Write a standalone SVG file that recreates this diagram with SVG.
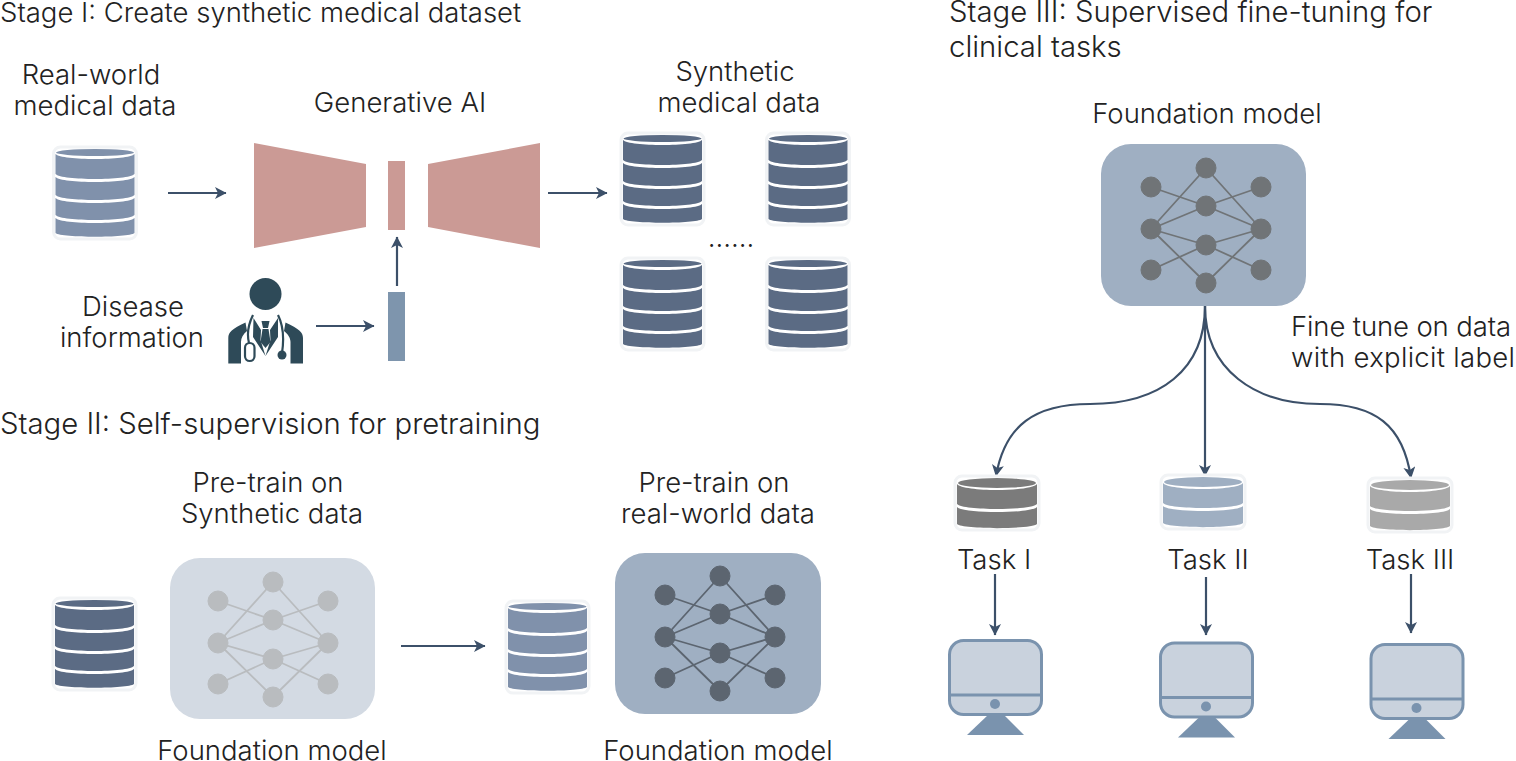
<svg xmlns="http://www.w3.org/2000/svg" width="1516" height="761" viewBox="0 0 1516 761">
<style>
text{font-family:"Inter","Liberation Sans",sans-serif;font-size:27.500px;font-weight:300;fill:#222}
.m{text-anchor:middle}
.big{font-size:29.300px}
.a{fill:none;stroke:#3c5069;stroke-width:2.200;marker-end:url(#ah)}
.pink{fill:#cb9a95}
.halo{fill:#fff;stroke:#f1f3f5;stroke-width:3}
.wire{fill:none;stroke-width:1.800}
.scr{fill:#c9d2dd;stroke:#7a93ae;stroke-width:3}
.ln{fill:none;stroke:#7a93ae;stroke-width:3}
.bl{fill:#7a93ae}
</style>
<defs>
<marker id="ah" markerUnits="userSpaceOnUse" markerWidth="14" markerHeight="14" refX="11" refY="6" orient="auto"><path d="M0 0L11.500 6L0 12L3 6Z" fill="#3c5069"/></marker>
<g id="db4">
<rect class="halo" x="-2" y="-2" width="83" height="92" rx="7"/>
<ellipse cx="39.5" cy="3.5" rx="39" ry="3.5"/>
<path d="M0 5C6 11.700 73 11.700 79 5V25C73 31.700 6 31.700 0 25Z"/>
<path d="M0 28C6 34.700 73 34.700 79 28V46C73 52.700 6 52.700 0 46Z"/>
<path d="M0 49C6 55.700 73 55.700 79 49V66C73 72.700 6 72.700 0 66Z"/>
<path d="M0 69C6 75.700 73 75.700 79 69V84C73 89 6 89 0 84Z"/>
</g>
<g id="db2">
<rect class="halo" x="-2" y="-2" width="84" height="54" rx="7"/>
<ellipse cx="40" cy="5" rx="39" ry="5"/>
<path d="M0 6C6 14 74 14 80 6V26C74 32.700 6 32.700 0 26Z"/>
<path d="M0 29C6 35.700 74 35.700 80 29V46C74 51.500 6 51.500 0 46Z"/>
</g>
<g id="net">
<path class="wire" d="M0 0L55 19M0 42L55 -19M0 42L55 19M0 42L55 58M0 42L55 96M0 83L55 58M110 0L55 19M110 42L55 -19M110 42L55 19M110 42L55 58M110 42L55 96M110 83L55 58"/>
<circle cx="0" cy="0" r="10"/><circle cx="0" cy="42" r="10"/><circle cx="0" cy="83" r="10"/>
<circle cx="55" cy="-19" r="10"/><circle cx="55" cy="19" r="10"/><circle cx="55" cy="58" r="10"/><circle cx="55" cy="96" r="10"/>
<circle cx="110" cy="0" r="10"/><circle cx="110" cy="42" r="10"/><circle cx="110" cy="83" r="10"/>
</g>
<g id="mon">
<path class="bl" d="M40 76H56L76 96H19Z"/>
<rect class="scr" x="1.500" y="1.500" width="92" height="74" rx="14"/>
<path class="ln" d="M2 56H93"/>
<circle class="bl" cx="47" cy="65" r="5"/>
</g>
</defs>

<g id="connectors">
<path class="a" d="M168 193H226"/>
<path class="a" d="M548 193H607"/>
<path class="a" d="M316 326H374"/>
<path class="a" d="M397 286V237"/>
<path class="a" d="M401 646H485"/>
<path class="a" d="M1205 306C1205 370 1160 404 1090 404C1035 404 1005 425 996 476"/>
<path class="a" d="M1205 306V476"/>
<path class="a" d="M1205 306C1205 370 1255 404 1320 404C1375 404 1403 425 1411 478"/>
<path class="a" d="M995 574V635"/>
<path class="a" d="M1206 577V635"/>
<path class="a" d="M1411 574V633"/>
</g>

<g id="stage1-title"><text x="0" y="22">Stage I: Create synthetic medical dataset</text></g>
<g id="real-data"><text class="m" x="91" y="84">Real-world</text><text class="m" x="95" y="115">medical data</text><use href="#db4" x="55.500" y="149" fill="#8091ab"/></g>
<g id="generative-ai"><text class="m" x="400" y="112">Generative AI</text>
<path class="pink" d="M254 143L366 164V227L254 248Z"/><rect class="pink" x="388" y="161" width="17" height="69"/><path class="pink" d="M428 164L540 143V248L428 227Z"/></g>
<g id="synthetic-data"><text class="m" x="735" y="81">Synthetic</text><text class="m" x="739" y="112">medical data</text>
<use href="#db4" x="623" y="135" fill="#5b6b84"/><use href="#db4" x="768.500" y="135" fill="#5b6b84"/><use href="#db4" x="623" y="260" fill="#5b6b84"/><use href="#db4" x="768.500" y="260" fill="#5b6b84"/>
<text class="m" x="731" y="247">......</text></g>
<g id="disease-info"><text class="m" x="133" y="316">Disease</text><text class="m" x="132" y="347">information</text></g>
<g id="doctor" fill="#2e4a58">
<circle cx="265.500" cy="294" r="16"/>
<path d="M228.300 363.500V338C228.300 332 232 329 245.500 322.500L247 331C243 334 241 338 241 342V363.500Z"/>
<path d="M303 363.500V338C303 332 299 329 285.500 322.500L284 331C288 334 290.500 338 290.500 342V363.500Z"/>
<path d="M253.500 318L261 330L260.500 340L265.500 356L253 337Z"/>
<path d="M278 318L270 330L270.500 340L265.500 356L278 337Z"/>
<path d="M261.500 321H269.500L268 328H263Z"/>
<path d="M262.500 329H268.500L270.500 342L265.500 348L260.500 342Z"/>
<path d="M253 315C248 325 247 335 249 343M278 315C283 325 284 340 282 353" fill="none" stroke="#2e4a58" stroke-width="2.200"/>
<circle cx="282" cy="355" r="4.500"/>
<rect x="245" y="343" width="9.500" height="18" rx="4.700" fill="none" stroke="#2e4a58" stroke-width="2.200"/>
</g>
<g id="label-vector"><rect x="388" y="292" width="17" height="69" fill="#7e95ad"/></g>

<g id="stage2-title"><text class="big" x="0" y="434">Stage II: Self-supervision for pretraining</text></g>
<g id="db-synth"><use href="#db4" x="55" y="600" fill="#5b6b84"/></g>
<g id="pretrain-synth"><text class="m" x="268" y="492">Pre-train on</text><text class="m" x="272" y="523">Synthetic data</text>
<rect x="170" y="558" width="205" height="161" rx="30" fill="#d3dae3"/><use href="#net" x="218" y="601" fill="#b9bcbf" stroke="#b9bcbf"/>
<text class="m" x="272" y="760">Foundation model</text></g>
<g id="db-real"><use href="#db4" x="508" y="603" fill="#8091ab"/></g>
<g id="pretrain-real"><text class="m" x="714" y="492">Pre-train on</text><text class="m" x="718" y="523">real-world data</text>
<rect x="615" y="553" width="206" height="161" rx="30" fill="#9fafc2"/><use href="#net" x="665" y="595" fill="#5c6570" stroke="#5c6570"/>
<text class="m" x="718" y="760">Foundation model</text></g>

<g id="stage3-title"><text class="big" x="949" y="22">Stage III: Supervised fine-tuning for</text><text class="big" x="949" y="56.500">clinical tasks</text></g>
<g id="foundation"><text class="m" x="1207" y="123">Foundation model</text>
<rect x="1101" y="144" width="205" height="162" rx="30" fill="#9fafc2"/><use href="#net" x="1151" y="187" fill="#707477" stroke="#707477"/></g>
<g id="fine-tune"><text x="1291" y="336" textLength="220">Fine tune on data</text><text x="1291" y="367" textLength="224">with explicit label</text></g>
<g id="task1"><use href="#db2" x="957" y="478" fill="#7b7b7b"/><text class="m" x="994" y="569">Task I</text><use href="#mon" x="948" y="639"/></g>
<g id="task2"><use href="#db2" x="1163" y="477" fill="#9fafc2"/><text class="m" x="1208" y="569">Task II</text><use href="#mon" x="1159" y="641.500"/></g>
<g id="task3"><use href="#db2" x="1370" y="480" fill="#a9a9a9"/><text class="m" x="1410" y="569">Task III</text><use href="#mon" x="1369.500" y="643"/></g>
</svg>
